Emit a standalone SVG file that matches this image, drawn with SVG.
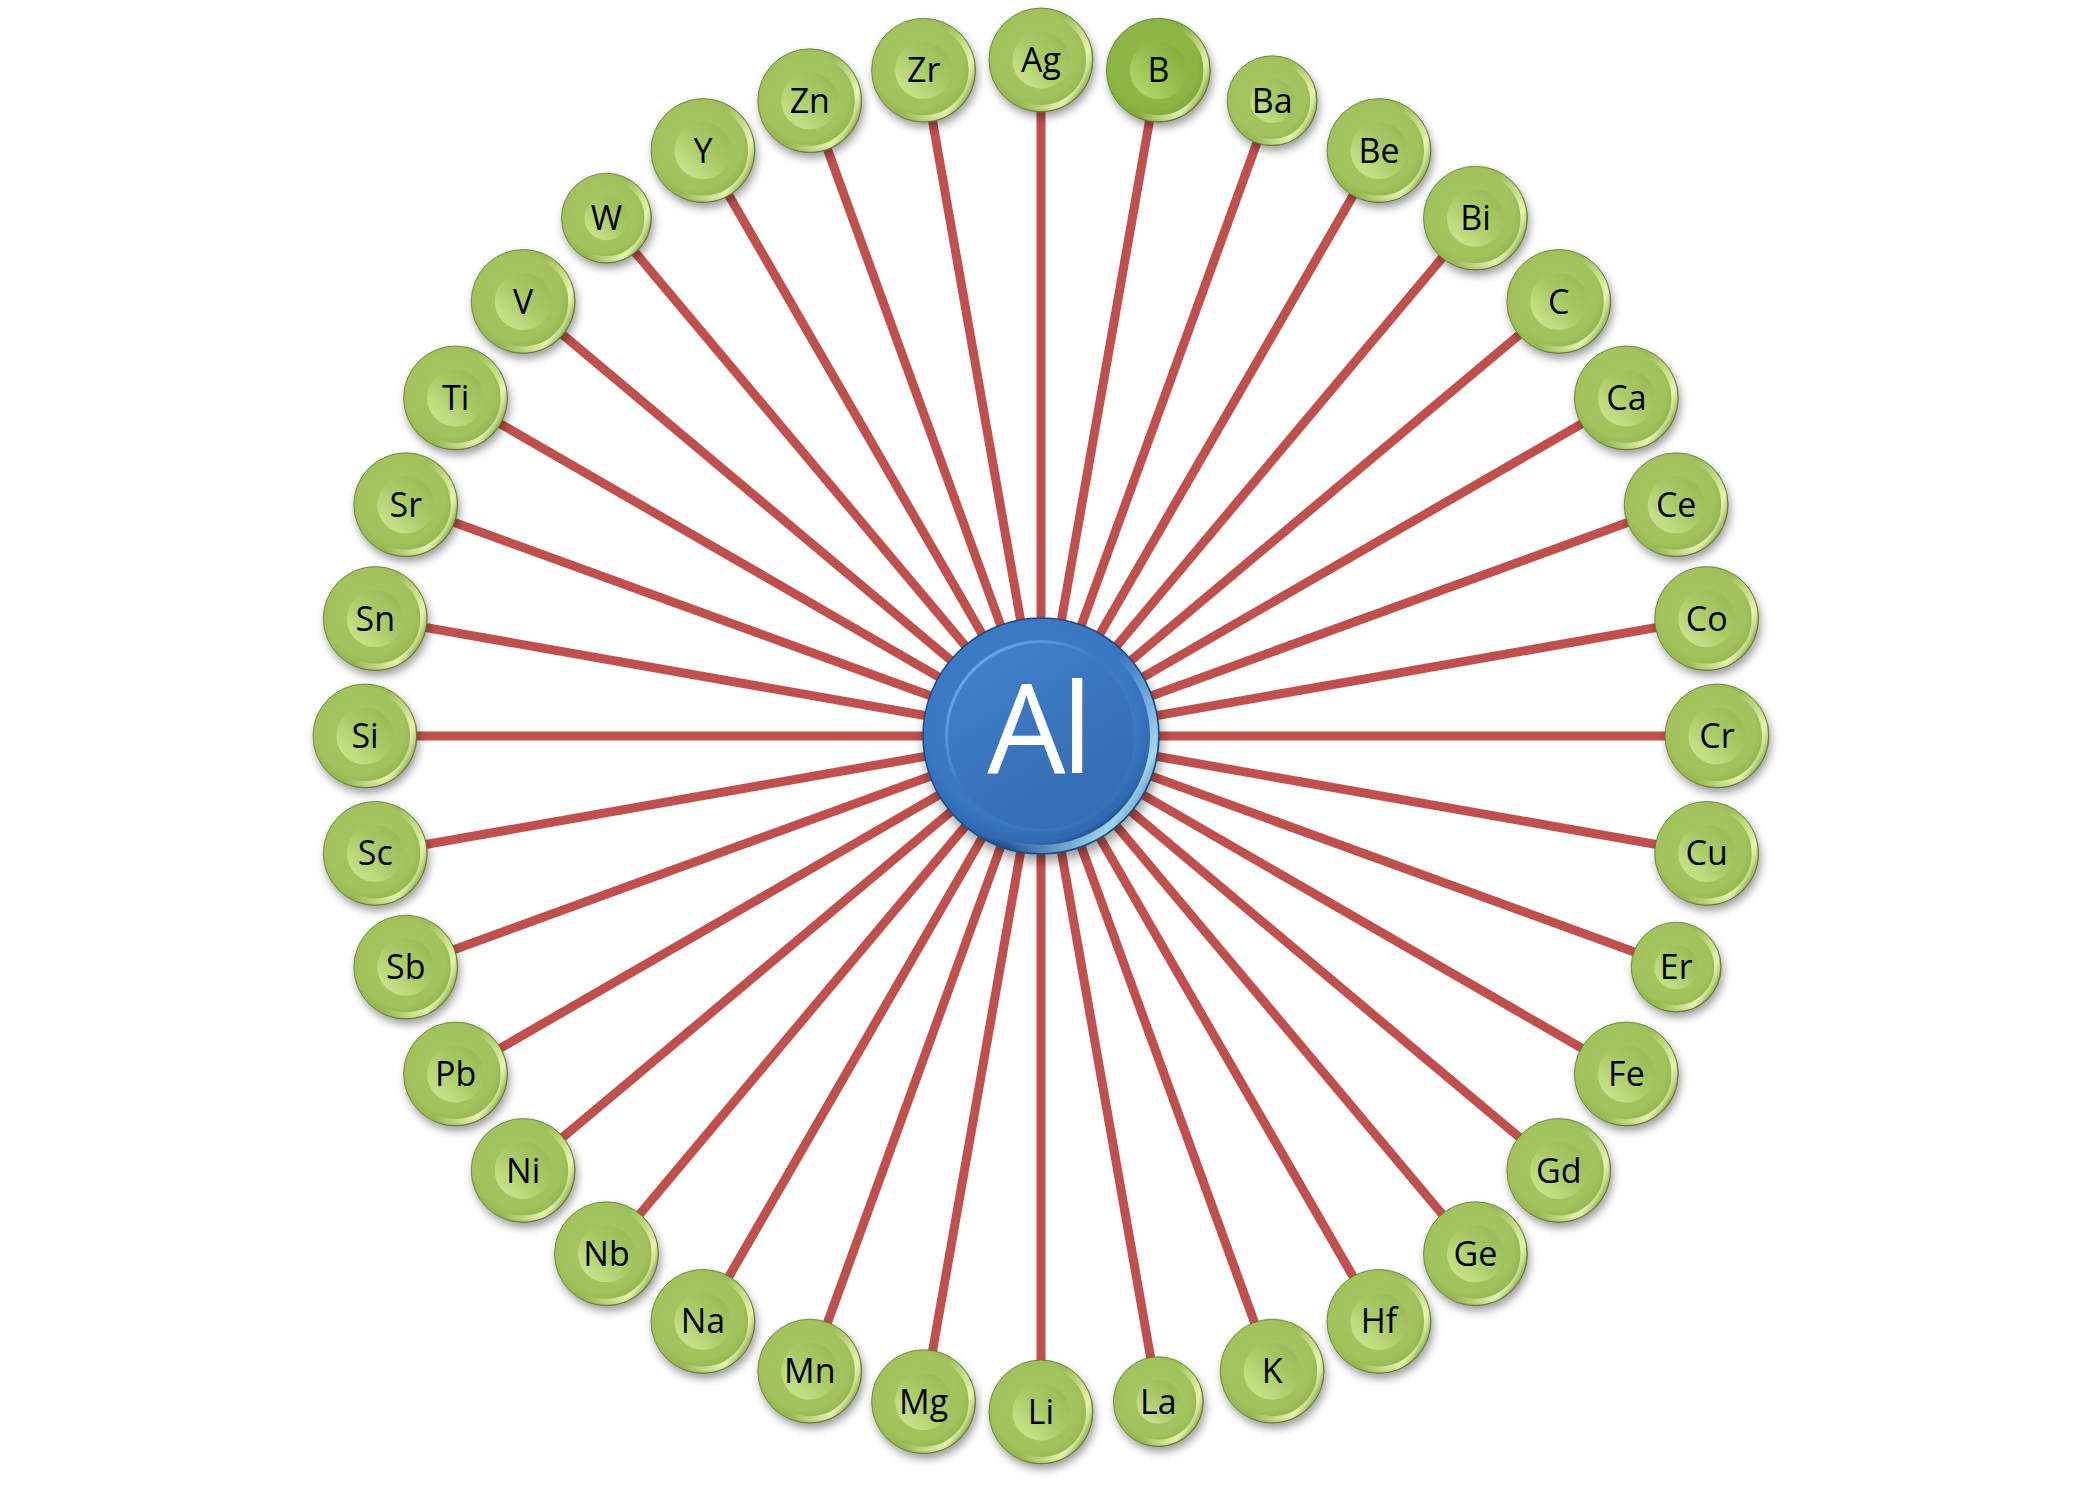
<svg xmlns="http://www.w3.org/2000/svg" width="2082" height="1488" viewBox="0 0 2082 1488">
<defs>
<filter id="sh" x="-30%" y="-30%" width="160%" height="170%"><feDropShadow dx="2" dy="5" stdDeviation="4" flood-color="#000" flood-opacity="0.38"/></filter>
<filter id="shA" x="-30%" y="-30%" width="160%" height="170%"><feDropShadow dx="2" dy="7" stdDeviation="6" flood-color="#000" flood-opacity="0.4"/></filter>
<radialGradient id="gOut" cx="0.45" cy="0.45" r="0.55">
<stop offset="0" stop-color="#a8c964"/><stop offset="0.78" stop-color="#a0c15b"/><stop offset="0.94" stop-color="#93b44e"/><stop offset="1" stop-color="#6a8a30"/>
</radialGradient>
<radialGradient id="gOutB" cx="0.45" cy="0.45" r="0.55">
<stop offset="0" stop-color="#93bb49"/><stop offset="0.78" stop-color="#8cb443"/><stop offset="0.94" stop-color="#7fa63a"/><stop offset="1" stop-color="#5a7e24"/>
</radialGradient>
<linearGradient id="gHi" x1="0" y1="0.15" x2="1" y2="0.65">
<stop offset="0.55" stop-color="#f4ffc0" stop-opacity="0"/><stop offset="0.9" stop-color="#f4ffc0" stop-opacity="0.85"/><stop offset="1" stop-color="#f4ffc0" stop-opacity="0.4"/>
</linearGradient>
<linearGradient id="gIn" x1="0.1" y1="0.9" x2="0.9" y2="0.1">
<stop offset="0" stop-color="#cbe68f"/><stop offset="0.5" stop-color="#abcb69"/><stop offset="1" stop-color="#98ba56"/>
</linearGradient>
<linearGradient id="gInB" x1="0.1" y1="0.9" x2="0.9" y2="0.1">
<stop offset="0" stop-color="#b4d970"/><stop offset="0.5" stop-color="#98c04e"/><stop offset="1" stop-color="#86ae3e"/>
</linearGradient>
<radialGradient id="bOut" cx="0.45" cy="0.42" r="0.56">
<stop offset="0" stop-color="#3e7ecb"/><stop offset="0.8" stop-color="#3a78c4"/><stop offset="0.95" stop-color="#3068b0"/><stop offset="1" stop-color="#1f4f8f"/>
</radialGradient>
<linearGradient id="bHi" x1="0" y1="0.2" x2="1" y2="0.8">
<stop offset="0.6" stop-color="#b8ecff" stop-opacity="0"/><stop offset="0.9" stop-color="#b8ecff" stop-opacity="0.85"/><stop offset="1" stop-color="#b8ecff" stop-opacity="0.3"/>
</linearGradient>
<linearGradient id="bIn" x1="0.2" y1="0" x2="0.8" y2="1">
<stop offset="0" stop-color="#4282cf"/><stop offset="0.5" stop-color="#3a74bd"/><stop offset="1" stop-color="#356bb2"/>
</linearGradient>
<linearGradient id="bRim" x1="0" y1="0" x2="1" y2="1">
<stop offset="0" stop-color="#7cc0f5" stop-opacity="0.9"/><stop offset="0.45" stop-color="#7cc0f5" stop-opacity="0"/><stop offset="1" stop-color="#2a5b9c" stop-opacity="0.5"/>
</linearGradient>
</defs>
<style>
.cn line{stroke:#c0504d;stroke-width:9;}
.node .o{fill:url(#gOut);filter:url(#sh);stroke:#55702a;stroke-width:1;stroke-opacity:0.7;}
.node .h{fill:none;stroke:url(#gHi);stroke-width:6;}
.node .i{fill:url(#gIn);}
.node.b .o{fill:url(#gOutB);}
.node.b .i{fill:url(#gInB);}
.node text{font-family:"Open Sans","Noto Sans","Liberation Sans",sans-serif;font-size:34px;fill:#000;text-anchor:middle;}
</style>
<rect width="2082" height="1488" fill="#ffffff"/>
<g id="connectors" class="cn">
<line x1="1041" y1="736" x2="1041" y2="60"/>
<line x1="1041" y1="736" x2="1158.4" y2="70.3"/>
<line x1="1041" y1="736" x2="1272.2" y2="100.8"/>
<line x1="1041" y1="736" x2="1379" y2="150.6"/>
<line x1="1041" y1="736" x2="1475.5" y2="218.2"/>
<line x1="1041" y1="736" x2="1558.8" y2="301.5"/>
<line x1="1041" y1="736" x2="1626.4" y2="398"/>
<line x1="1041" y1="736" x2="1676.2" y2="504.8"/>
<line x1="1041" y1="736" x2="1706.7" y2="618.6"/>
<line x1="1041" y1="736" x2="1717" y2="736"/>
<line x1="1041" y1="736" x2="1706.7" y2="853.4"/>
<line x1="1041" y1="736" x2="1676.2" y2="967.2"/>
<line x1="1041" y1="736" x2="1626.4" y2="1074"/>
<line x1="1041" y1="736" x2="1558.8" y2="1170.5"/>
<line x1="1041" y1="736" x2="1475.5" y2="1253.8"/>
<line x1="1041" y1="736" x2="1379" y2="1321.4"/>
<line x1="1041" y1="736" x2="1272.2" y2="1371.2"/>
<line x1="1041" y1="736" x2="1158.4" y2="1401.7"/>
<line x1="1041" y1="736" x2="1041" y2="1412"/>
<line x1="1041" y1="736" x2="923.6" y2="1401.7"/>
<line x1="1041" y1="736" x2="809.8" y2="1371.2"/>
<line x1="1041" y1="736" x2="703" y2="1321.4"/>
<line x1="1041" y1="736" x2="606.5" y2="1253.8"/>
<line x1="1041" y1="736" x2="523.2" y2="1170.5"/>
<line x1="1041" y1="736" x2="455.6" y2="1074"/>
<line x1="1041" y1="736" x2="405.8" y2="967.2"/>
<line x1="1041" y1="736" x2="375.3" y2="853.4"/>
<line x1="1041" y1="736" x2="365" y2="736"/>
<line x1="1041" y1="736" x2="375.3" y2="618.6"/>
<line x1="1041" y1="736" x2="405.8" y2="504.8"/>
<line x1="1041" y1="736" x2="455.6" y2="398"/>
<line x1="1041" y1="736" x2="523.2" y2="301.5"/>
<line x1="1041" y1="736" x2="606.5" y2="218.2"/>
<line x1="1041" y1="736" x2="703" y2="150.6"/>
<line x1="1041" y1="736" x2="809.8" y2="100.8"/>
<line x1="1041" y1="736" x2="923.6" y2="70.3"/>
</g>
<g id="n-Ag" class="node" transform="translate(1041 60)"><circle class="o" r="52"/><circle class="h" r="48"/><circle class="i" r="28.5"/><text y="12">Ag</text></g>
<g id="n-B" class="node b" transform="translate(1158.4 70.3)"><circle class="o" r="52"/><circle class="h" r="48"/><circle class="i" r="28.5"/><text y="12">B</text></g>
<g id="n-Ba" class="node" transform="translate(1272.2 100.8)"><circle class="o" r="45"/><circle class="h" r="41"/><circle class="i" r="22"/><text y="12">Ba</text></g>
<g id="n-Be" class="node" transform="translate(1379 150.6)"><circle class="o" r="52"/><circle class="h" r="48"/><circle class="i" r="28.5"/><text y="12">Be</text></g>
<g id="n-Bi" class="node" transform="translate(1475.5 218.2)"><circle class="o" r="52"/><circle class="h" r="48"/><circle class="i" r="28.5"/><text y="12">Bi</text></g>
<g id="n-C" class="node" transform="translate(1558.8 301.5)"><circle class="o" r="52"/><circle class="h" r="48"/><circle class="i" r="28.5"/><text y="12">C</text></g>
<g id="n-Ca" class="node" transform="translate(1626.4 398)"><circle class="o" r="52"/><circle class="h" r="48"/><circle class="i" r="28.5"/><text y="12">Ca</text></g>
<g id="n-Ce" class="node" transform="translate(1676.2 504.8)"><circle class="o" r="52"/><circle class="h" r="48"/><circle class="i" r="28.5"/><text y="12">Ce</text></g>
<g id="n-Co" class="node" transform="translate(1706.7 618.6)"><circle class="o" r="52"/><circle class="h" r="48"/><circle class="i" r="28.5"/><text y="12">Co</text></g>
<g id="n-Cr" class="node" transform="translate(1717 736)"><circle class="o" r="52"/><circle class="h" r="48"/><circle class="i" r="28.5"/><text y="12">Cr</text></g>
<g id="n-Cu" class="node" transform="translate(1706.7 853.4)"><circle class="o" r="52"/><circle class="h" r="48"/><circle class="i" r="28.5"/><text y="12">Cu</text></g>
<g id="n-Er" class="node" transform="translate(1676.2 967.2)"><circle class="o" r="45"/><circle class="h" r="41"/><circle class="i" r="22"/><text y="12">Er</text></g>
<g id="n-Fe" class="node" transform="translate(1626.4 1074)"><circle class="o" r="52"/><circle class="h" r="48"/><circle class="i" r="28.5"/><text y="12">Fe</text></g>
<g id="n-Gd" class="node" transform="translate(1558.8 1170.5)"><circle class="o" r="52"/><circle class="h" r="48"/><circle class="i" r="28.5"/><text y="12">Gd</text></g>
<g id="n-Ge" class="node" transform="translate(1475.5 1253.8)"><circle class="o" r="52"/><circle class="h" r="48"/><circle class="i" r="28.5"/><text y="12">Ge</text></g>
<g id="n-Hf" class="node" transform="translate(1379 1321.4)"><circle class="o" r="52"/><circle class="h" r="48"/><circle class="i" r="28.5"/><text y="12">Hf</text></g>
<g id="n-K" class="node" transform="translate(1272.2 1371.2)"><circle class="o" r="52"/><circle class="h" r="48"/><circle class="i" r="28.5"/><text y="12">K</text></g>
<g id="n-La" class="node" transform="translate(1158.4 1401.7)"><circle class="o" r="45"/><circle class="h" r="41"/><circle class="i" r="22"/><text y="12">La</text></g>
<g id="n-Li" class="node" transform="translate(1041 1412)"><circle class="o" r="52"/><circle class="h" r="48"/><circle class="i" r="28.5"/><text y="12">Li</text></g>
<g id="n-Mg" class="node" transform="translate(923.6 1401.7)"><circle class="o" r="52"/><circle class="h" r="48"/><circle class="i" r="28.5"/><text y="12">Mg</text></g>
<g id="n-Mn" class="node" transform="translate(809.8 1371.2)"><circle class="o" r="52"/><circle class="h" r="48"/><circle class="i" r="28.5"/><text y="12">Mn</text></g>
<g id="n-Na" class="node" transform="translate(703 1321.4)"><circle class="o" r="52"/><circle class="h" r="48"/><circle class="i" r="28.5"/><text y="12">Na</text></g>
<g id="n-Nb" class="node" transform="translate(606.5 1253.8)"><circle class="o" r="52"/><circle class="h" r="48"/><circle class="i" r="28.5"/><text y="12">Nb</text></g>
<g id="n-Ni" class="node" transform="translate(523.2 1170.5)"><circle class="o" r="52"/><circle class="h" r="48"/><circle class="i" r="28.5"/><text y="12">Ni</text></g>
<g id="n-Pb" class="node" transform="translate(455.6 1074)"><circle class="o" r="52"/><circle class="h" r="48"/><circle class="i" r="28.5"/><text y="12">Pb</text></g>
<g id="n-Sb" class="node" transform="translate(405.8 967.2)"><circle class="o" r="52"/><circle class="h" r="48"/><circle class="i" r="28.5"/><text y="12">Sb</text></g>
<g id="n-Sc" class="node" transform="translate(375.3 853.4)"><circle class="o" r="52"/><circle class="h" r="48"/><circle class="i" r="28.5"/><text y="12">Sc</text></g>
<g id="n-Si" class="node" transform="translate(365 736)"><circle class="o" r="52"/><circle class="h" r="48"/><circle class="i" r="28.5"/><text y="12">Si</text></g>
<g id="n-Sn" class="node" transform="translate(375.3 618.6)"><circle class="o" r="52"/><circle class="h" r="48"/><circle class="i" r="28.5"/><text y="12">Sn</text></g>
<g id="n-Sr" class="node" transform="translate(405.8 504.8)"><circle class="o" r="52"/><circle class="h" r="48"/><circle class="i" r="28.5"/><text y="12">Sr</text></g>
<g id="n-Ti" class="node" transform="translate(455.6 398)"><circle class="o" r="52"/><circle class="h" r="48"/><circle class="i" r="28.5"/><text y="12">Ti</text></g>
<g id="n-V" class="node" transform="translate(523.2 301.5)"><circle class="o" r="52"/><circle class="h" r="48"/><circle class="i" r="28.5"/><text y="12">V</text></g>
<g id="n-W" class="node" transform="translate(606.5 218.2)"><circle class="o" r="45"/><circle class="h" r="41"/><circle class="i" r="22"/><text y="12">W</text></g>
<g id="n-Y" class="node" transform="translate(703 150.6)"><circle class="o" r="52"/><circle class="h" r="48"/><circle class="i" r="28.5"/><text y="12">Y</text></g>
<g id="n-Zn" class="node" transform="translate(809.8 100.8)"><circle class="o" r="52"/><circle class="h" r="48"/><circle class="i" r="28.5"/><text y="12">Zn</text></g>
<g id="n-Zr" class="node" transform="translate(923.6 70.3)"><circle class="o" r="52"/><circle class="h" r="48"/><circle class="i" r="28.5"/><text y="12">Zr</text></g>
<g id="n-Al" transform="translate(1041 736)">
<circle r="118" fill="url(#bOut)" filter="url(#shA)" stroke="#1f4a82" stroke-width="1.5"/>
<circle r="113" fill="none" stroke="url(#bHi)" stroke-width="8"/>
<circle r="96" fill="url(#bIn)"/>
<circle r="94.5" fill="none" stroke="url(#bRim)" stroke-width="3"/>
<text x="-3" y="37" font-family="Open Sans, Noto Sans, Liberation Sans, sans-serif" font-size="124" fill="#ffffff" text-anchor="middle" letter-spacing="-4">Al</text>
</g>
</svg>
